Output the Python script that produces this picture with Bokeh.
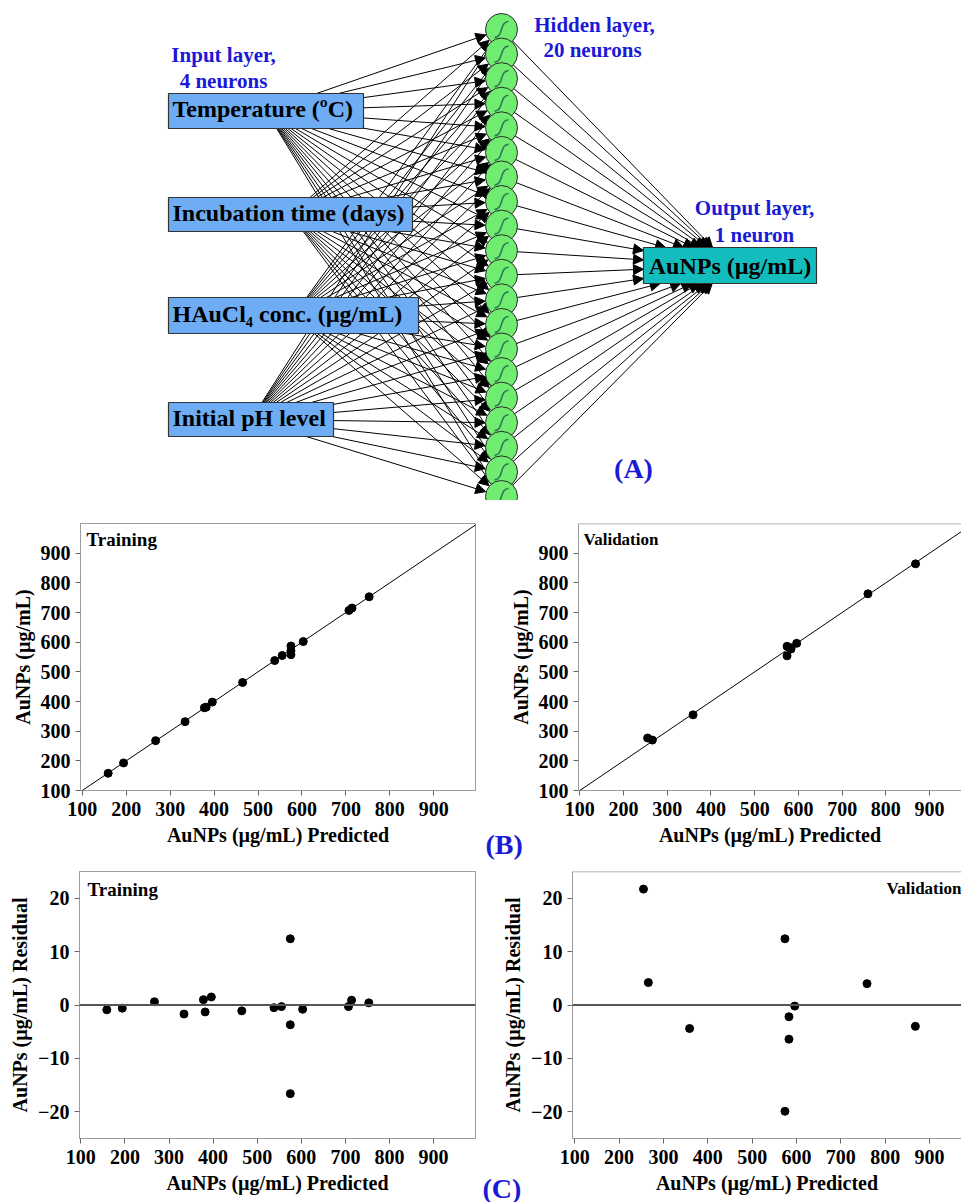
import numpy as np
from bokeh.plotting import figure
from bokeh.models import (ColumnDataSource, Arrow, NormalHead, Label, Slope,
                          Span, FixedTicker, Title)
from bokeh.layouts import column, row
from bokeh.embed import file_html
from bokeh.resources import INLINE
from bokeh.core.properties import value

SERIF = "Liberation Serif"
BLUE = "#1A1AD6"
BOX_BLUE = "#6EADF3"
TEAL = "#14BDBD"
GREEN = "#70EC70"
AXIS_GRAY = "#9c9c9c"

# ---------------------------------------------------------------- network
input_labels = ["Temperature (ºC)", "Incubation time (days)",
                "HAuCl₄ conc. (µg/mL)", "Initial pH level"]
n_hidden = 20
output_label = "AuNPs (µg/mL)"

# ---------------------------------------------------------------- ANN fit
# training set: predicted AuNPs, measured AuNPs, residual (measured - predicted)
train_pred = [159, 194, 267, 334, 378, 382, 396, 465, 538, 555,
              575, 575, 575, 603, 707, 714, 753]
train_actual = [158, 193, 268, 332, 379, 381, 398, 464, 538, 555,
                587, 571, 558, 602, 707, 715, 753]
train_resid = [-0.9, -0.6, 0.6, -1.7, 1.0, -1.3, 1.5, -1.1, -0.5, -0.3,
               12.4, -3.7, -16.6, -0.8, -0.3, 0.9, 0.4]

# validation set
valid_pred = [255, 266, 359, 574, 574, 583, 583, 596, 759, 868]
valid_actual = [277, 270, 355, 586, 554, 581, 577, 596, 763, 864]
valid_resid = [21.7, 4.2, -4.4, 12.4, -19.9, -2.2, -6.4, -0.2, 4.0, -4.0]

conc_ticks = [100, 200, 300, 400, 500, 600, 700, 800, 900]
resid_ticks = [-20, -10, 0, 10, 20]

# ================================================================ diagram
diag = figure(width=961, height=500, x_range=(0, 961), y_range=(500, 0),
              output_backend="svg", toolbar_location=None,
              x_axis_type=None, y_axis_type=None, min_border=0)
diag.grid.visible = False
diag.outline_line_color = None

box_left = 168
box_right = [363, 412, 418, 333]
box_top = [93, 197, 297, 402]
box_bottom = [128, 231, 333, 436]
box_cx = [(box_left + r) / 2 for r in box_right]
box_cy = [(t + b) / 2 for t, b in zip(box_top, box_bottom)]

hx = 501.0
hy = np.linspace(29, 496, n_hidden)
hr = 16

out_l, out_r, out_t, out_b = 643, 816, 247, 283
out_cx, out_cy = (out_l + out_r) / 2, (out_t + out_b) / 2

# input -> hidden connections, ending at each neuron's rim
x0, y0, x1, y1 = [], [], [], []
for bx, by in zip(box_cx, box_cy):
    for y in hy:
        dx, dy = hx - bx, y - by
        L = np.hypot(dx, dy)
        x0.append(bx); y0.append(by)
        x1.append(hx - (hr + 0.5) * dx / L)
        y1.append(y - (hr + 0.5) * dy / L)

# hidden -> output connections, ending at the output box edge
for y in hy:
    dx, dy = out_cx - hx, out_cy - y
    t = (out_l - hx) / dx
    if y < out_t:
        t = max(t, (out_t - y) / dy)
    elif y > out_b:
        t = max(t, (out_b - y) / dy)
    x0.append(hx); y0.append(y)
    x1.append(hx + t * dx); y1.append(y + t * dy)

links = ColumnDataSource(dict(x0=x0, y0=y0, x1=x1, y1=y1))
diag.add_layout(Arrow(end=NormalHead(size=10, fill_color="black",
                                     line_color="black", line_width=1),
                      x_start="x0", y_start="y0", x_end="x1", y_end="y1",
                      source=links, line_color="black", line_width=1,
                      level="underlay"))

# input boxes
diag.quad(left=[box_left] * 4, right=box_right, top=box_top, bottom=box_bottom,
          fill_color=BOX_BLUE, line_color="#333333", line_width=1.2)
diag.text(x=[172] * 4, y=[c - 2 for c in box_cy], text=input_labels,
          text_font=value(SERIF), text_font_style="bold", text_font_size="24px",
          text_baseline="alphabetic", text_align="left", text_color="black")

# hidden neurons with sigmoid symbol
diag.circle(x=[hx] * n_hidden, y=hy, radius=hr, fill_color=GREEN,
            line_color="#2a2a2a", line_width=1)
diag.bezier(x0=hx - 7, y0=hy + 8, x1=hx + 7, y1=hy - 8,
            cx0=hx + 2, cy0=hy + 8, cx1=hx - 2, cy1=hy - 8,
            line_color="#2E7A5A", line_width=1.6)

# output neuron
diag.quad(left=[out_l], right=[out_r], top=[out_t], bottom=[out_b],
          fill_color=TEAL, line_color="#333333", line_width=1.2)
diag.text(x=[out_cx], y=[out_cy], text=[output_label],
          text_font=value(SERIF), text_font_style="bold", text_font_size="24px",
          text_baseline="alphabetic", text_align="center", text_color="black")

# layer captions
diag.text(x=[223, 223, 594, 592, 754, 754],
          y=[54, 80, 24, 49, 207, 234],
          text=["Input layer,", "4 neurons", "Hidden layer,", "20 neurons",
                "Output layer,", "1 neuron"],
          text_font=value(SERIF), text_font_style="bold", text_font_size="21px",
          text_baseline="alphabetic", text_align="center", text_color=BLUE)
diag.text(x=[633], y=[468], text=["(A)"], text_font=value(SERIF),
          text_font_style="bold", text_font_size="28px",
          text_baseline="alphabetic", text_align="center", text_color=BLUE)


# ================================================================ panels
def panel(width, height, xr, yr, left, top, bottom, right, yticks, ylabel,
          closed=True):
    p = figure(width=width, height=height, x_range=xr, y_range=yr,
               output_backend="svg", toolbar_location=None,
               min_border_left=left, min_border_top=top,
               min_border_bottom=bottom, min_border_right=right)
    p.grid.visible = False
    p.xaxis.ticker = FixedTicker(ticks=conc_ticks)
    p.yaxis.ticker = FixedTicker(ticks=yticks)
    p.xaxis.axis_label = "AuNPs (µg/mL) Predicted"
    p.yaxis.axis_label = ylabel
    p.axis.axis_line_color = AXIS_GRAY
    p.axis.major_tick_line_color = "#666666"
    p.axis.major_tick_out = 5
    p.axis.major_tick_in = 0
    p.axis.minor_tick_line_color = None
    p.axis.major_label_text_font = SERIF
    p.axis.major_label_text_font_style = "bold"
    p.axis.major_label_text_font_size = "20px"
    p.axis.major_label_text_color = "black"
    p.axis.axis_label_text_font = SERIF
    p.axis.axis_label_text_font_style = "bold"
    p.axis.axis_label_text_font_size = "20px"
    p.axis.axis_label_text_color = "black"
    p.xaxis.major_label_standoff = 6
    p.xaxis.axis_label_standoff = 5
    p.yaxis.major_label_standoff = 5
    p.yaxis.axis_label_standoff = 4
    if closed:
        p.outline_line_color = AXIS_GRAY
    else:
        p.outline_line_color = None
        p.add_layout(Span(location=yr[1], dimension="width",
                          line_color=AXIS_GRAY, line_width=1.5))
    return p


def tag(p, text, x, y, size, align="left"):
    p.add_layout(Label(x=x, y=y, x_units="screen", y_units="screen", text=text,
                       text_font=SERIF, text_font_style="bold",
                       text_font_size=size, text_color="black",
                       text_baseline="top", text_align=align))


def panel_letter(p, text, offset, standoff):
    p.add_layout(Title(text=text, align="left", offset=offset,
                       standoff=standoff, vertical_align="top",
                       text_font=SERIF, text_font_style="bold",
                       text_font_size="28px", text_color=BLUE), "below")


# (B) measured vs predicted
fit_t = panel(480, 360, (96, 995), (100, 1000), 80, 23, 70, 5,
              conc_ticks, "AuNPs (µg/mL)")
fit_t.add_layout(Slope(gradient=1, y_intercept=0, line_color="black",
                       line_width=1))
fit_t.scatter(train_pred, train_actual, size=8, color="black")
tag(fit_t, "Training", 6, 262, "19px")

fit_v = panel(481, 360, (97, 973), (100, 1000), 98, 23, 70, 0,
              conc_ticks, "AuNPs (µg/mL)", closed=False)
fit_v.add_layout(Slope(gradient=1, y_intercept=0, line_color="black",
                       line_width=1))
fit_v.scatter(valid_pred, valid_actual, size=8, color="black")
tag(fit_v, "Validation", 5, 261, "17px")
panel_letter(fit_v, "(B)", -93, -40)

# (C) residuals vs predicted
res_t = panel(480, 342, (97, 995), (-25, 25), 79, 11, 64, 5,
              resid_ticks, "AuNPs (µg/mL) Residual")
res_t.add_layout(Span(location=0, dimension="width", line_color="#555555",
                      line_width=2))
res_t.scatter(train_pred, train_resid, size=8, color="black")
tag(res_t, "Training", 8, 260, "19px")

res_v = panel(481, 342, (95, 972), (-25, 25), 92, 11, 64, 0,
              resid_ticks, "AuNPs (µg/mL) Residual", closed=False)
res_v.add_layout(Span(location=0, dimension="width", line_color="#555555",
                      line_width=2))
res_v.scatter(valid_pred, valid_resid, size=8, color="black")
tag(res_v, "Validation", 314, 260, "17px")
panel_letter(res_v, "(C)", -90, -48)

layout = column(diag, row(fit_t, fit_v), row(res_t, res_v))

with open("out.html", "w") as f:
    f.write(file_html(layout, INLINE))
